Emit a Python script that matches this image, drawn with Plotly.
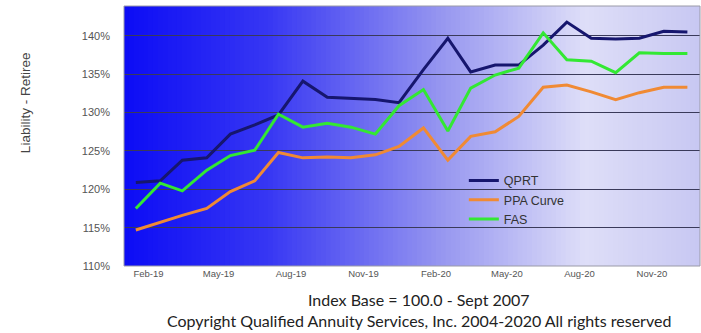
import pandas as pd
import plotly.graph_objects as go

# ---- data ----
months = ["Jan-19", "Feb-19", "Mar-19", "Apr-19", "May-19", "Jun-19", "Jul-19", "Aug-19",
          "Sep-19", "Oct-19", "Nov-19", "Dec-19", "Jan-20", "Feb-20", "Mar-20", "Apr-20",
          "May-20", "Jun-20", "Jul-20", "Aug-20", "Sep-20", "Oct-20", "Nov-20", "Dec-20"]
qprt = [120.9, 121.1, 123.8, 124.1, 127.2, 128.4, 129.7, 134.1, 132.0, 131.9, 131.7, 131.3,
        135.6, 139.7, 135.3, 136.2, 136.2, 138.8, 141.8, 139.7, 139.6, 139.7, 140.6, 140.5]
ppa = [114.7, 115.7, 116.6, 117.5, 119.7, 121.1, 124.8, 124.1, 124.2, 124.1, 124.5, 125.6,
       128.0, 123.8, 126.9, 127.5, 129.5, 133.3, 133.6, 132.7, 131.7, 132.6, 133.3, 133.3]
fas = [117.5, 120.8, 119.8, 122.5, 124.4, 125.1, 129.8, 128.1, 128.6, 128.1, 127.2, 130.9,
       133.0, 127.6, 133.2, 134.9, 135.8, 140.4, 136.9, 136.7, 135.2, 137.8, 137.7, 137.7]
tick_labels = ["Feb-19", "May-19", "Aug-19", "Nov-19", "Feb-20", "May-20", "Aug-20", "Nov-20"]

x_dates = pd.to_datetime(months, format="%b-%y") + pd.Timedelta(days=15)
tick_dates = pd.to_datetime(tick_labels, format="%b-%y")

fig = go.Figure()
series = [("QPRT", qprt, "#16166e"), ("PPA Curve", ppa, "#f08a34"), ("FAS", fas, "#33e833")]
for name, vals, col in series:
    fig.add_trace(go.Scatter(x=x_dates, y=vals, mode="lines", name=name,
                             line=dict(color=col, width=3)))

# gradient background
def grad(t):
    stops = [(0.0, (12, 12, 245)), (0.25, (55, 55, 243)), (0.55, (150, 150, 240)),
             (0.8, (222, 222, 248)), (1.0, (200, 200, 242))]
    for (t0, c0), (t1, c1) in zip(stops[:-1], stops[1:]):
        if t0 <= t <= t1:
            f = (t - t0) / (t1 - t0)
            return "rgb(%d,%d,%d)" % tuple(round(a + (b - a) * f) for a, b in zip(c0, c1))
    return "rgb(200,200,242)"

N = 120
shapes = []
for i in range(N):
    shapes.append(dict(type="rect", xref="x domain", yref="y domain",
                       x0=i / N, x1=(i + 1.6) / N if i < N - 1 else 1, y0=0, y1=1,
                       fillcolor=grad((i + 0.5) / N), line=dict(width=0), layer="below"))
shapes.append(dict(type="rect", xref="x domain", yref="y domain", x0=0, x1=1, y0=0, y1=1,
                   line=dict(color="#9a9aa8", width=1), fillcolor="rgba(0,0,0,0)", layer="above"))

fig.update_layout(
    width=701, height=333,
    margin=dict(l=124, r=1, t=6, b=67),
    paper_bgcolor="white", plot_bgcolor="white",
    shapes=shapes,
    showlegend=True,
    legend=dict(x=0.59, y=0.385, xanchor="left", yanchor="top",
                bgcolor="rgba(0,0,0,0)", font=dict(family="Liberation Sans, Arial", size=12.5, color="#333"),
                tracegroupgap=0, itemwidth=30),
    font=dict(family="Liberation Sans, Arial", color="#555"),
)
fig.update_xaxes(range=["2019-01-01", "2021-01-01"], tickvals=tick_dates, ticktext=tick_labels,
                 showgrid=False, zeroline=False, showline=False,
                 tickfont=dict(size=9.5, color="#555"))
fig.update_yaxes(range=[110, 143.9], dtick=5, tick0=110, ticksuffix="%",
                 showgrid=True, gridcolor="#3a3a5a", gridwidth=1.3, zeroline=False, showline=False,
                 ticklabelstandoff=13, tickfont=dict(size=11, color="#555"))

fig.add_annotation(text="Liability - Retiree", xref="paper", yref="paper", x=-0.172, y=0.63,
                   xanchor="center", yanchor="middle",
                   textangle=-90, showarrow=False, font=dict(size=13.5, color="#444"))
fig.add_annotation(text="Index Base = 100.0 - Sept 2007", xref="paper", yref="paper",
                   x=0.512, y=-0.127, xanchor="center", yanchor="middle", showarrow=False,
                   font=dict(family="Lato", size=16, color="#222"))
fig.add_annotation(text="Copyright Qualified Annuity Services, Inc. 2004-2020 All rights reserved",
                   xref="paper", yref="paper", x=0.512, y=-0.208, xanchor="center", yanchor="middle",
                   showarrow=False, font=dict(family="Lato", size=16, color="#222"))

fig.write_html("out.html")
